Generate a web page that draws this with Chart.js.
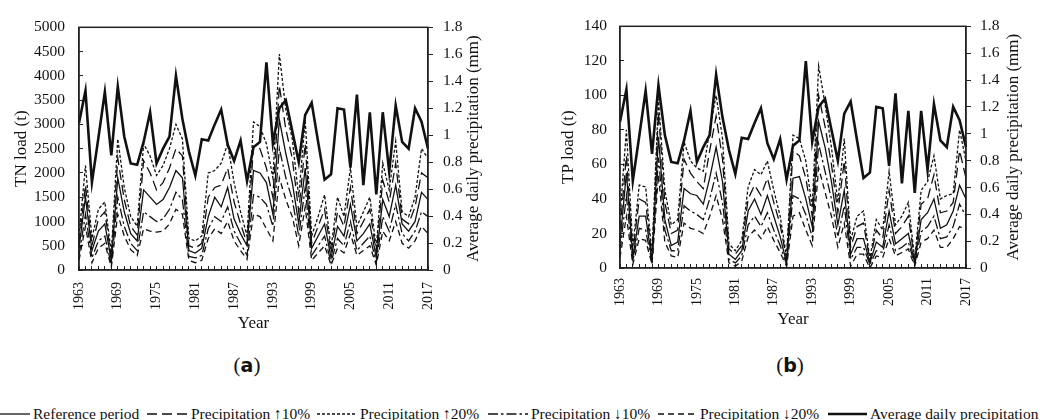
<!DOCTYPE html>
<html>
<head>
<meta charset="utf-8">
<script src="https://cdn.jsdelivr.net/npm/chart.js@4.4.1/dist/chart.umd.min.js"></script>
<style>
  html, body { margin: 0; padding: 0; background: #fff; }
  body { position: relative; width: 1043px; height: 420px; overflow: hidden;
         font-family: "Liberation Serif", "Times New Roman", serif; color: #111; }
  canvas { position: absolute; top: 0; }
  .cap { position: absolute; top: 352px; width: 80px; text-align: center; font-size: 21px; line-height: 26px; }
  .cap b { font-family: "DejaVu Sans", sans-serif; font-size: 19px; }
  .item { position: absolute; top: 405px; height: 18px; line-height: 18px; font-size: 15.5px;
          white-space: nowrap; display: flex; align-items: center; }
  .item svg { margin-right: 3px; }
</style>
</head>
<body>
<canvas id="chartA" style="left:0" width="500" height="340"></canvas>
<canvas id="chartB" style="left:521px" width="522" height="340"></canvas>
<div class="cap" style="left:207px">(<b>a</b>)</div>
<div class="cap" style="left:750px">(<b>b</b>)</div>
<div id="legend"></div>
<script>
const years = [1963, 1964, 1965, 1966, 1967, 1968, 1969, 1970, 1971, 1972,
  1973, 1974, 1975, 1976, 1977, 1978, 1979, 1980, 1981, 1982,
  1983, 1984, 1985, 1986, 1987, 1988, 1989, 1990, 1991, 1992,
  1993, 1994, 1995, 1996, 1997, 1998, 1999, 2000, 2001, 2002,
  2003, 2004, 2005, 2006, 2007, 2008, 2009, 2010, 2011, 2012,
  2013, 2014, 2015, 2016, 2017];
const shownYears = [1963, 1969, 1975, 1981, 1987, 1993, 1999, 2005, 2011, 2017];

const seriesNames = ['Reference period', 'Precipitation ↑10%', 'Precipitation ↑20%',
  'Precipitation ↓10%', 'Precipitation ↓20%', 'Average daily precipitation'];

// average daily precipitation (mm), right axis of both panels
const precip = [1.09, 1.33, 0.65, 0.98, 1.32, 0.85, 1.36, 0.99, 0.79, 0.78,
  0.95, 1.17, 0.79, 0.90, 0.99, 1.44, 1.12, 0.88, 0.70, 0.97,
  0.96, 1.08, 1.19, 0.93, 0.81, 0.96, 0.66, 0.91, 0.95, 1.54,
  0.94, 1.20, 1.26, 1.03, 0.80, 1.15, 1.24, 0.95, 0.67, 0.71,
  1.20, 1.19, 0.76, 1.30, 0.63, 1.17, 0.56, 1.17, 0.73, 1.22,
  0.95, 0.90, 1.20, 1.10, 0.90];

// TN load (t)
const tnRef = [450, 1500, 400, 800, 950, 200, 1900, 1200, 750, 600,
  1650, 1500, 1350, 1450, 1700, 2050, 1900, 400, 350, 450,
  1100, 1500, 1300, 1700, 1050, 750, 500, 2050, 2000, 1800,
  1150, 3100, 2400, 1800, 950, 2100, 450, 700, 950, 250,
  900, 700, 1350, 600, 750, 950, 250, 1450, 1100, 1750,
  950, 800, 1000, 1600, 1450];
const tnUp10 = [550, 1750, 500, 1050, 1200, 250, 2300, 1450, 900, 720,
  2250, 2000, 1650, 1800, 2100, 2500, 2350, 500, 450, 550,
  1500, 1700, 1750, 2100, 1400, 950, 550, 2550, 2500, 2100,
  1500, 3800, 2900, 2300, 1200, 2600, 550, 900, 1250, 350,
  1200, 900, 1700, 750, 1000, 1250, 350, 1850, 1400, 2200,
  1050, 950, 1300, 2000, 1900];
const tnUp20 = [700, 2150, 650, 1250, 1400, 350, 2700, 1700, 1100, 900,
  2600, 2350, 1950, 2150, 2500, 3000, 2700, 650, 600, 700,
  2000, 2050, 2200, 2600, 1800, 1200, 700, 3050, 2950, 2600,
  1900, 4450, 3300, 2700, 1500, 3100, 700, 1100, 1550, 450,
  1500, 1100, 2100, 900, 1200, 1500, 450, 2200, 1650, 2650,
  1200, 1100, 1500, 2500, 2300];
const tnDown10 = [300, 1150, 250, 600, 700, 100, 1500, 900, 550, 400,
  1200, 1100, 1000, 1050, 1250, 1600, 1450, 280, 250, 300,
  850, 1100, 1000, 1300, 800, 550, 300, 1550, 1500, 1350,
  900, 2500, 1900, 1450, 700, 1700, 300, 500, 700, 150,
  650, 500, 1000, 400, 550, 700, 150, 1100, 800, 1350,
  750, 600, 800, 1200, 1100];
const tnDown20 = [200, 900, 150, 450, 550, 60, 1150, 700, 420, 300,
  850, 800, 780, 800, 950, 1250, 1150, 200, 150, 200,
  650, 850, 750, 1000, 600, 400, 220, 1150, 1100, 850,
  600, 1900, 1450, 1100, 500, 1300, 200, 350, 500, 100,
  450, 350, 750, 300, 400, 500, 100, 800, 600, 1000,
  550, 450, 600, 900, 750];

// TP load (t)
const tpRef = [15, 55, 6, 30, 30, 4, 76, 28, 13, 15,
  46, 43, 42, 37, 52, 70, 50, 8, 5, 10,
  33, 40, 31, 42, 30, 18, 3, 52, 53, 40,
  24, 85, 70, 50, 25, 45, 8, 17, 17, 3,
  15, 12, 33, 14, 17, 20, 3, 28, 32, 40,
  23, 25, 33, 48, 40];
const tpUp10 = [22, 65, 9, 40, 38, 6, 90, 38, 20, 22,
  63, 55, 50, 46, 68, 88, 63, 11, 8, 13,
  40, 48, 42, 52, 38, 25, 5, 68, 65, 52,
  30, 100, 82, 60, 32, 62, 12, 24, 26, 4,
  22, 17, 45, 20, 24, 30, 4, 37, 40, 54,
  32, 33, 38, 68, 52];
const tpUp20 = [30, 80, 12, 48, 47, 8, 98, 45, 25, 28,
  73, 62, 58, 56, 80, 100, 75, 14, 10, 16,
  47, 57, 54, 62, 45, 30, 6, 77, 75, 62,
  35, 117, 95, 70, 38, 75, 16, 30, 33, 5,
  28, 22, 56, 25, 30, 38, 5, 45, 50, 65,
  40, 42, 43, 80, 62];
const tpDown10 = [10, 42, 4, 23, 22, 3, 64, 22, 10, 10,
  36, 33, 31, 28, 40, 55, 38, 5, 3, 7,
  25, 30, 24, 32, 22, 13, 2, 42, 40, 31,
  18, 72, 56, 40, 18, 36, 5, 12, 12, 2,
  10, 9, 25, 10, 12, 15, 2, 21, 24, 30,
  17, 18, 24, 37, 30];
const tpDown20 = [6, 30, 2, 17, 16, 2, 54, 15, 7, 6,
  26, 23, 22, 20, 30, 42, 28, 3, 1, 4,
  18, 22, 17, 24, 16, 9, 1, 30, 32, 22,
  13, 58, 44, 30, 12, 26, 1, 8, 8, 0,
  7, 6, 17, 7, 9, 11, 1, 15, 17, 22,
  12, 12, 17, 24, 22];

const lineStyles = [
  { dash: [], width: 1.3 },
  { dash: [10, 5], width: 1.3 },
  { dash: [3, 2], width: 1.3 },
  { dash: [10, 3, 2.5, 3], width: 1.3 },
  { dash: [6, 4], width: 1.3 },
  { dash: [], width: 2.6 }
];

Chart.defaults.font.family = '"Liberation Serif", "Times New Roman", serif';
Chart.defaults.color = '#111';

// box round the plot area
const frame = {
  id: 'frame',
  afterDraw(chart) {
    const { ctx, chartArea: a } = chart;
    ctx.save();
    ctx.strokeStyle = '#222';
    ctx.lineWidth = 1.5;
    ctx.strokeRect(a.left, a.top, a.right - a.left, a.bottom - a.top);
    ctx.restore();
  }
};

// right axis title, reading bottom to top like the left one
const sideTitle = {
  id: 'sideTitle',
  afterDraw(chart, args, opts) {
    const { ctx, chartArea: a } = chart;
    ctx.save();
    ctx.translate(opts.x, (a.top + a.bottom) / 2);
    ctx.rotate(-Math.PI / 2);
    ctx.font = '17px "Liberation Serif"';
    ctx.fillStyle = '#111';
    ctx.textAlign = 'center';
    ctx.textBaseline = 'middle';
    ctx.fillText(opts.text, 0, 0);
    ctx.restore();
  }
};

function buildChart(id, loads, opt) {
  const datasets = [{
    label: seriesNames[5], data: precip, yAxisID: 'y1',
    borderColor: '#111', borderWidth: lineStyles[5].width, pointRadius: 0, tension: 0
  }];
  loads.forEach((d, k) => datasets.push({
    label: seriesNames[k], data: d, yAxisID: 'y',
    borderColor: '#111', borderWidth: lineStyles[k].width, borderDash: lineStyles[k].dash,
    pointRadius: 0, tension: 0
  }));

  return new Chart(document.getElementById(id).getContext('2d'), {
    type: 'line',
    data: { labels: years, datasets: datasets },
    options: {
      responsive: false,
      animation: false,
      layout: { padding: { top: opt.top, left: 0, right: 0, bottom: 0 } },
      plugins: {
        legend: { display: false },
        tooltip: { enabled: false },
        sideTitle: { text: 'Average daily precipitation (mm)', x: opt.rightTitleX }
      },
      scales: {
        x: {
          ticks: {
            autoSkip: false, minRotation: 90, maxRotation: 90, padding: opt.xPad,
            font: { size: 14 },
            callback: (v, i) => shownYears.includes(years[i]) ? String(years[i]) : ''
          },
          grid: { drawOnChartArea: false, tickLength: -4, color: '#222' },
          border: { color: '#222', width: 1.3 },
          title: { display: true, text: 'Year', font: { size: 17 }, padding: opt.yearPad },
          afterFit: s => { s.height = opt.xH; }
        },
        y: {
          min: 0, max: opt.max,
          ticks: { stepSize: opt.step, padding: opt.yPad, font: { size: 15.5 }, callback: v => String(v) },
          grid: { drawOnChartArea: false, tickLength: -4, color: '#222' },
          border: { color: '#222', width: 1.3 },
          title: { display: true, text: opt.yTitle, font: { size: 17 }, padding: { top: opt.titlePad, bottom: 0 } },
          afterFit: s => { s.width = opt.yW; }
        },
        y1: {
          position: 'right', min: 0, max: 1.8,
          ticks: { stepSize: 0.2, padding: opt.y1Pad, font: { size: 15.5 }, callback: v => String(+v.toFixed(1)) },
          grid: { drawOnChartArea: false, tickLength: 5, color: '#222' },
          border: { color: '#222', width: 1.3 },
          afterFit: s => { s.width = opt.y1W; }
        }
      }
    },
    plugins: [frame, sideTitle]
  });
}

buildChart('chartA', [tnRef, tnUp10, tnUp20, tnDown10, tnDown20], {
  top: 22, xH: 70, yW: 79, y1W: 72, max: 5000, step: 500, yTitle: 'TN load (t)',
  titlePad: 11, yPad: 18, y1Pad: 10, xPad: 16, yearPad: 6, rightTitleX: 474
});
buildChart('chartB', [tpRef, tpUp10, tpUp20, tpDown10, tpDown20], {
  top: 25, xH: 72, yW: 99, y1W: 77, max: 140, step: 20, yTitle: 'TP load (t)',
  titlePad: 37, yPad: 17, y1Pad: 9, xPad: 14, yearPad: 10, rightTitleX: 493
});

// shared legend under both panels
const legendPos = [0, 147, 317, 488, 658, 828];
const legendLen = [30, 41, 40, 40, 39, 39];
const legend = document.getElementById('legend');
seriesNames.forEach((name, k) => {
  const st = lineStyles[k];
  const item = document.createElement('div');
  item.className = 'item';
  item.style.left = legendPos[k] + 'px';
  item.innerHTML = '<svg width="' + legendLen[k] + '" height="10"><line x1="0" y1="5" x2="' + legendLen[k] +
    '" y2="5" stroke="#111" stroke-width="' + st.width + '" stroke-dasharray="' + st.dash.join(' ') +
    '"/></svg><span>' + name + '</span>';
  legend.appendChild(item);
});
</script>
</body>
</html>
